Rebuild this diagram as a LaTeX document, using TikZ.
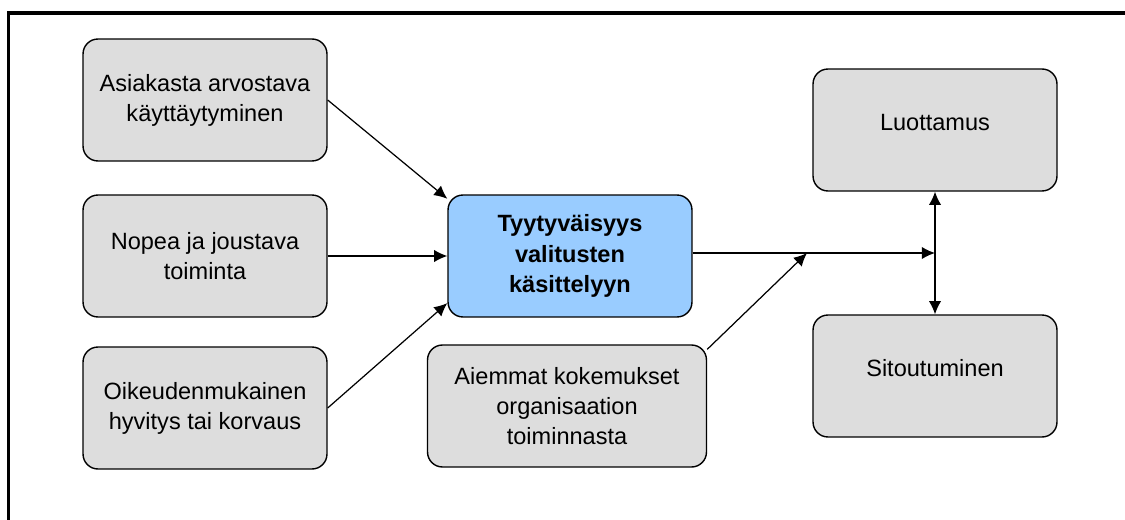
\documentclass[tikz,border=0pt]{standalone}
\usepackage{fontspec}
\setmainfont{Liberation Sans}
\usetikzlibrary{arrows.meta}

\definecolor{boxgrey}{HTML}{DDDDDD}
\definecolor{boxblue}{HTML}{99CCFF}

\begin{document}
\begin{tikzpicture}[>={Latex[length=7.5pt,width=7pt]}, x=0.02cm, y=-0.02cm,
  box/.style={draw, rounded corners=8.5pt, fill=boxgrey, line width=0.8pt,
    minimum width=4.88cm, minimum height=2.44cm, align=center,
    font=\fontsize{13.4}{17}\selectfont},
  link/.style={line width=0.7pt}]

\useasboundingbox (0,0) rectangle (1125,520);

% kehys
\draw[line width=2pt] (8.5,520) |- (1125,13);

% vasen sarake
\node[box] (asiakas) at (205,100) {Asiakasta arvostava\\käyttäytyminen};
\node[box] (nopea) at (205,256) {Nopea ja joustava\\toiminta};
\node[box] (oikeus) at (205,408) {Oikeudenmukainen\\hyvitys tai korvaus};

% keskella
\node[box, fill=boxblue, font=\fontsize{13.4}{17.5}\selectfont\bfseries]
  (tyyt) at (570,256) {Tyytyväisyys\\valitusten\\käsittelyyn};
\node[box, minimum width=5.58cm] (aiemmat) at (567,406)
  {Aiemmat kokemukset\\organisaation\\toiminnasta};

% oikea sarake
\node[box] (luott) at (935,130) {Luottamus\\[-8pt]~};
\node[box] (sitout) at (935,376) {Sitoutuminen\\[-8pt]~};

\coordinate (junc) at (935,253);
\coordinate (mid) at (807,253);

% nuolet
\draw[link,->] (asiakas.east) -- (tyyt.155);
\draw[link,->] (nopea) -- (tyyt);
\draw[link,->] (oikeus.east) -- (tyyt.201);

\draw[link,->] (tyyt.east |- junc) -- (junc);
\draw[link,->] (aiemmat.22) -- (mid);

\draw[link,<->] (luott) -- (sitout);

\end{tikzpicture}
\end{document}
